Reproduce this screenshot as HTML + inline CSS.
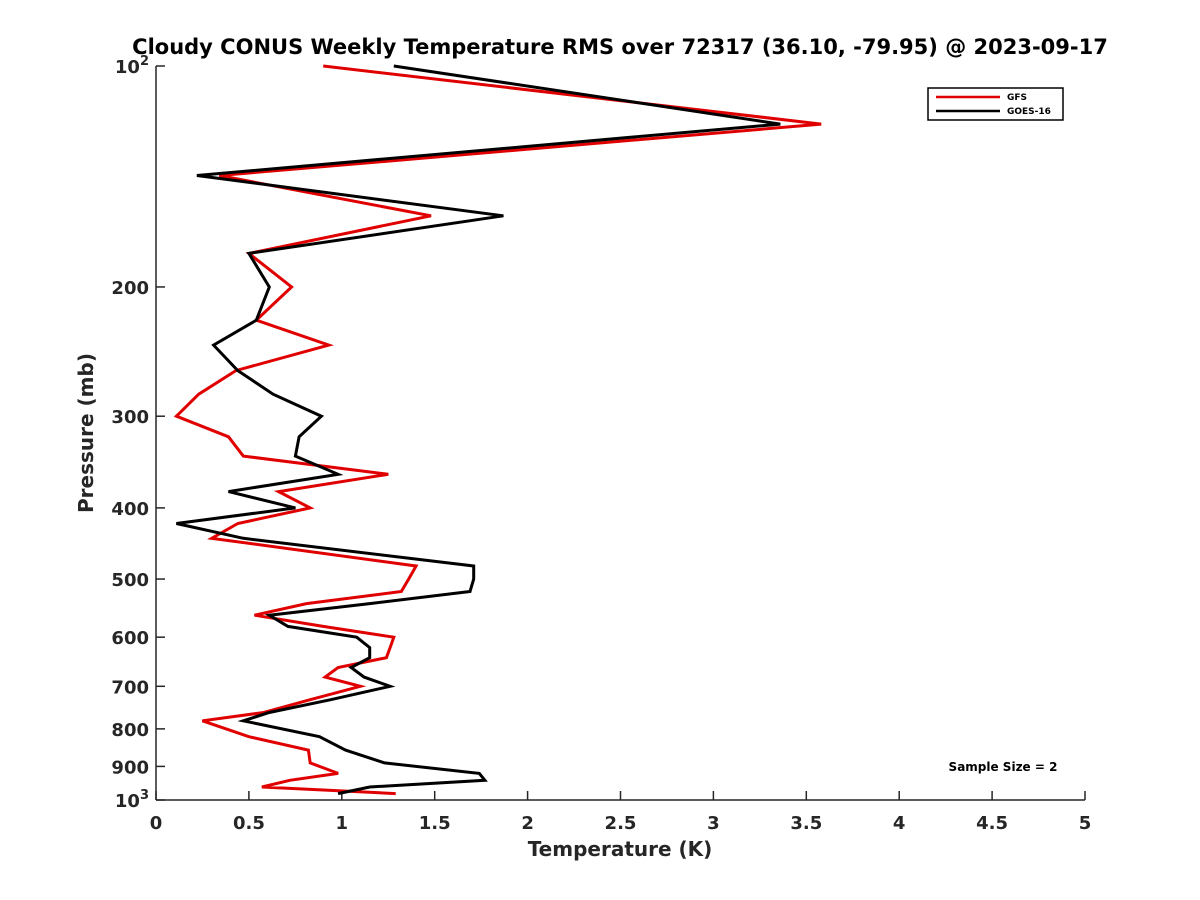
<!DOCTYPE html>
<html><head><meta charset="utf-8"><style>
body{margin:0;background:#fff;}
svg{display:block;font-family:"DejaVu Sans","Liberation Sans",sans-serif;}
</style></head><body>
<svg id="chart" width="1200" height="900">
<rect width="1200" height="900" fill="#fff"/>
<text x="620" y="54" text-anchor="middle" font-size="21" font-weight="bold" fill="#000">Cloudy CONUS Weekly Temperature RMS over 72317 (36.10, -79.95) @ 2023-09-17</text>
<g id="axes"></g>
<g id="series"></g>
<g>
<rect x="928" y="88" width="135" height="32" fill="#fff" stroke="#000" stroke-width="1.5"/>
<line x1="936" y1="97" x2="1000" y2="97" stroke="#e00000" stroke-width="2.5"/>
<text x="1007" y="100" font-size="9" font-weight="bold">GFS</text>
<line x1="936" y1="111" x2="1000" y2="111" stroke="#000" stroke-width="2.5"/>
<text x="1007" y="114" font-size="9" font-weight="bold">GOES-16</text>
</g>
<text x="1003" y="771" text-anchor="middle" font-size="12" font-weight="bold">Sample Size = 2</text>
<text x="620" y="856" text-anchor="middle" font-size="20" font-weight="bold" fill="#262626">Temperature (K)</text>
<text transform="translate(93,433) rotate(-90)" text-anchor="middle" font-size="20" font-weight="bold" fill="#262626">Pressure (mb)</text>
</svg>
<script>
const pressures=[100,120,141,160,180,200,222,240,260,280,300,320,340,360,380,400,420,440,480,500,520,540,560,580,600,620,640,660,680,700,730,760,780,820,855,890,920,940,960,980];
const gfsValues=[0.90,3.58,0.34,1.48,0.50,0.73,0.54,0.93,0.43,0.23,0.11,0.39,0.47,1.25,0.66,0.83,0.44,0.30,1.40,1.36,1.32,0.81,0.53,0.90,1.28,1.26,1.24,0.98,0.91,1.10,0.83,0.58,0.25,0.50,0.82,0.83,0.98,0.72,0.57,1.29];
const goesValues=[1.28,3.36,0.22,1.87,0.50,0.61,0.54,0.31,0.44,0.63,0.89,0.77,0.75,0.98,0.39,0.75,0.11,0.47,1.71,1.71,1.69,1.15,0.61,0.71,1.08,1.15,1.15,1.05,1.12,1.26,0.94,0.61,0.47,0.88,1.02,1.23,1.74,1.77,1.15,0.98];
const xTicks=[0,0.5,1,1.5,2,2.5,3,3.5,4,4.5,5];
const yTicks=[100,200,300,400,500,600,700,800,900,1000];
const NS='http://www.w3.org/2000/svg';
const X0=156,X1=1085,Y0=66,Y1=800;
function xs(v){return X0+(v-0)/(5-0)*(X1-X0);}
function ys(p){return Y0+(Math.log10(p)-2)*(Y1-Y0);}
function mk(tag,attrs,parent){const e=document.createElementNS(NS,tag);for(const k in attrs)e.setAttribute(k,attrs[k]);parent.appendChild(e);return e;}
const axes=document.getElementById('axes');
const ax1=mk('line',{x1:X0,y1:Y0,x2:X0,y2:Y1,stroke:'#262626','stroke-width':1.5},axes);


const ax2=mk('line',{x1:X0,y1:Y1,x2:X1,y2:Y1,stroke:'#262626','stroke-width':1.5},axes);


xTicks.forEach(v=>{
  const x=xs(v);
  const t=mk('line',{x1:x,y1:Y1,x2:x,y2:Y1-9,stroke:'#262626','stroke-width':1.5},axes);
  
  
  const l=mk('text',{x:x,y:Y1+29,'text-anchor':'middle','font-size':18,'font-weight':'bold',fill:'#262626'},axes);
  l.textContent=String(v);
  
  
});
yTicks.forEach(p=>{
  const y=ys(p);
  const t=mk('line',{x1:X0,y1:y,x2:X0+9,y2:y,stroke:'#262626','stroke-width':1.5},axes);
  
  
  const l=mk('text',{x:X0-7,y:y+7,'text-anchor':'end','font-size':18,'font-weight':'bold',fill:'#262626'},axes);
  if(p===100||p===1000){
    l.textContent='10';
    const s=mk('tspan',{dy:-8,'font-size':13},l);
    s.textContent=p===100?'2':'3';
    l.setAttribute('x',X0-7);
  } else l.textContent=String(p);
  
  
});
const sg=document.getElementById('series');
function line(vals,color,name){
  const pts=vals.map((v,i)=>xs(v).toFixed(1)+','+ys(pressures[i]).toFixed(1)).join(' ');
  const pl=mk('polyline',{points:pts,fill:'none',stroke:color,'stroke-width':3,'stroke-linejoin':'miter'},sg);
  
  
}
line(gfsValues,'#e00000','gfs-line');
line(goesValues,'#000','goes16-line');
</script>
</body></html>
